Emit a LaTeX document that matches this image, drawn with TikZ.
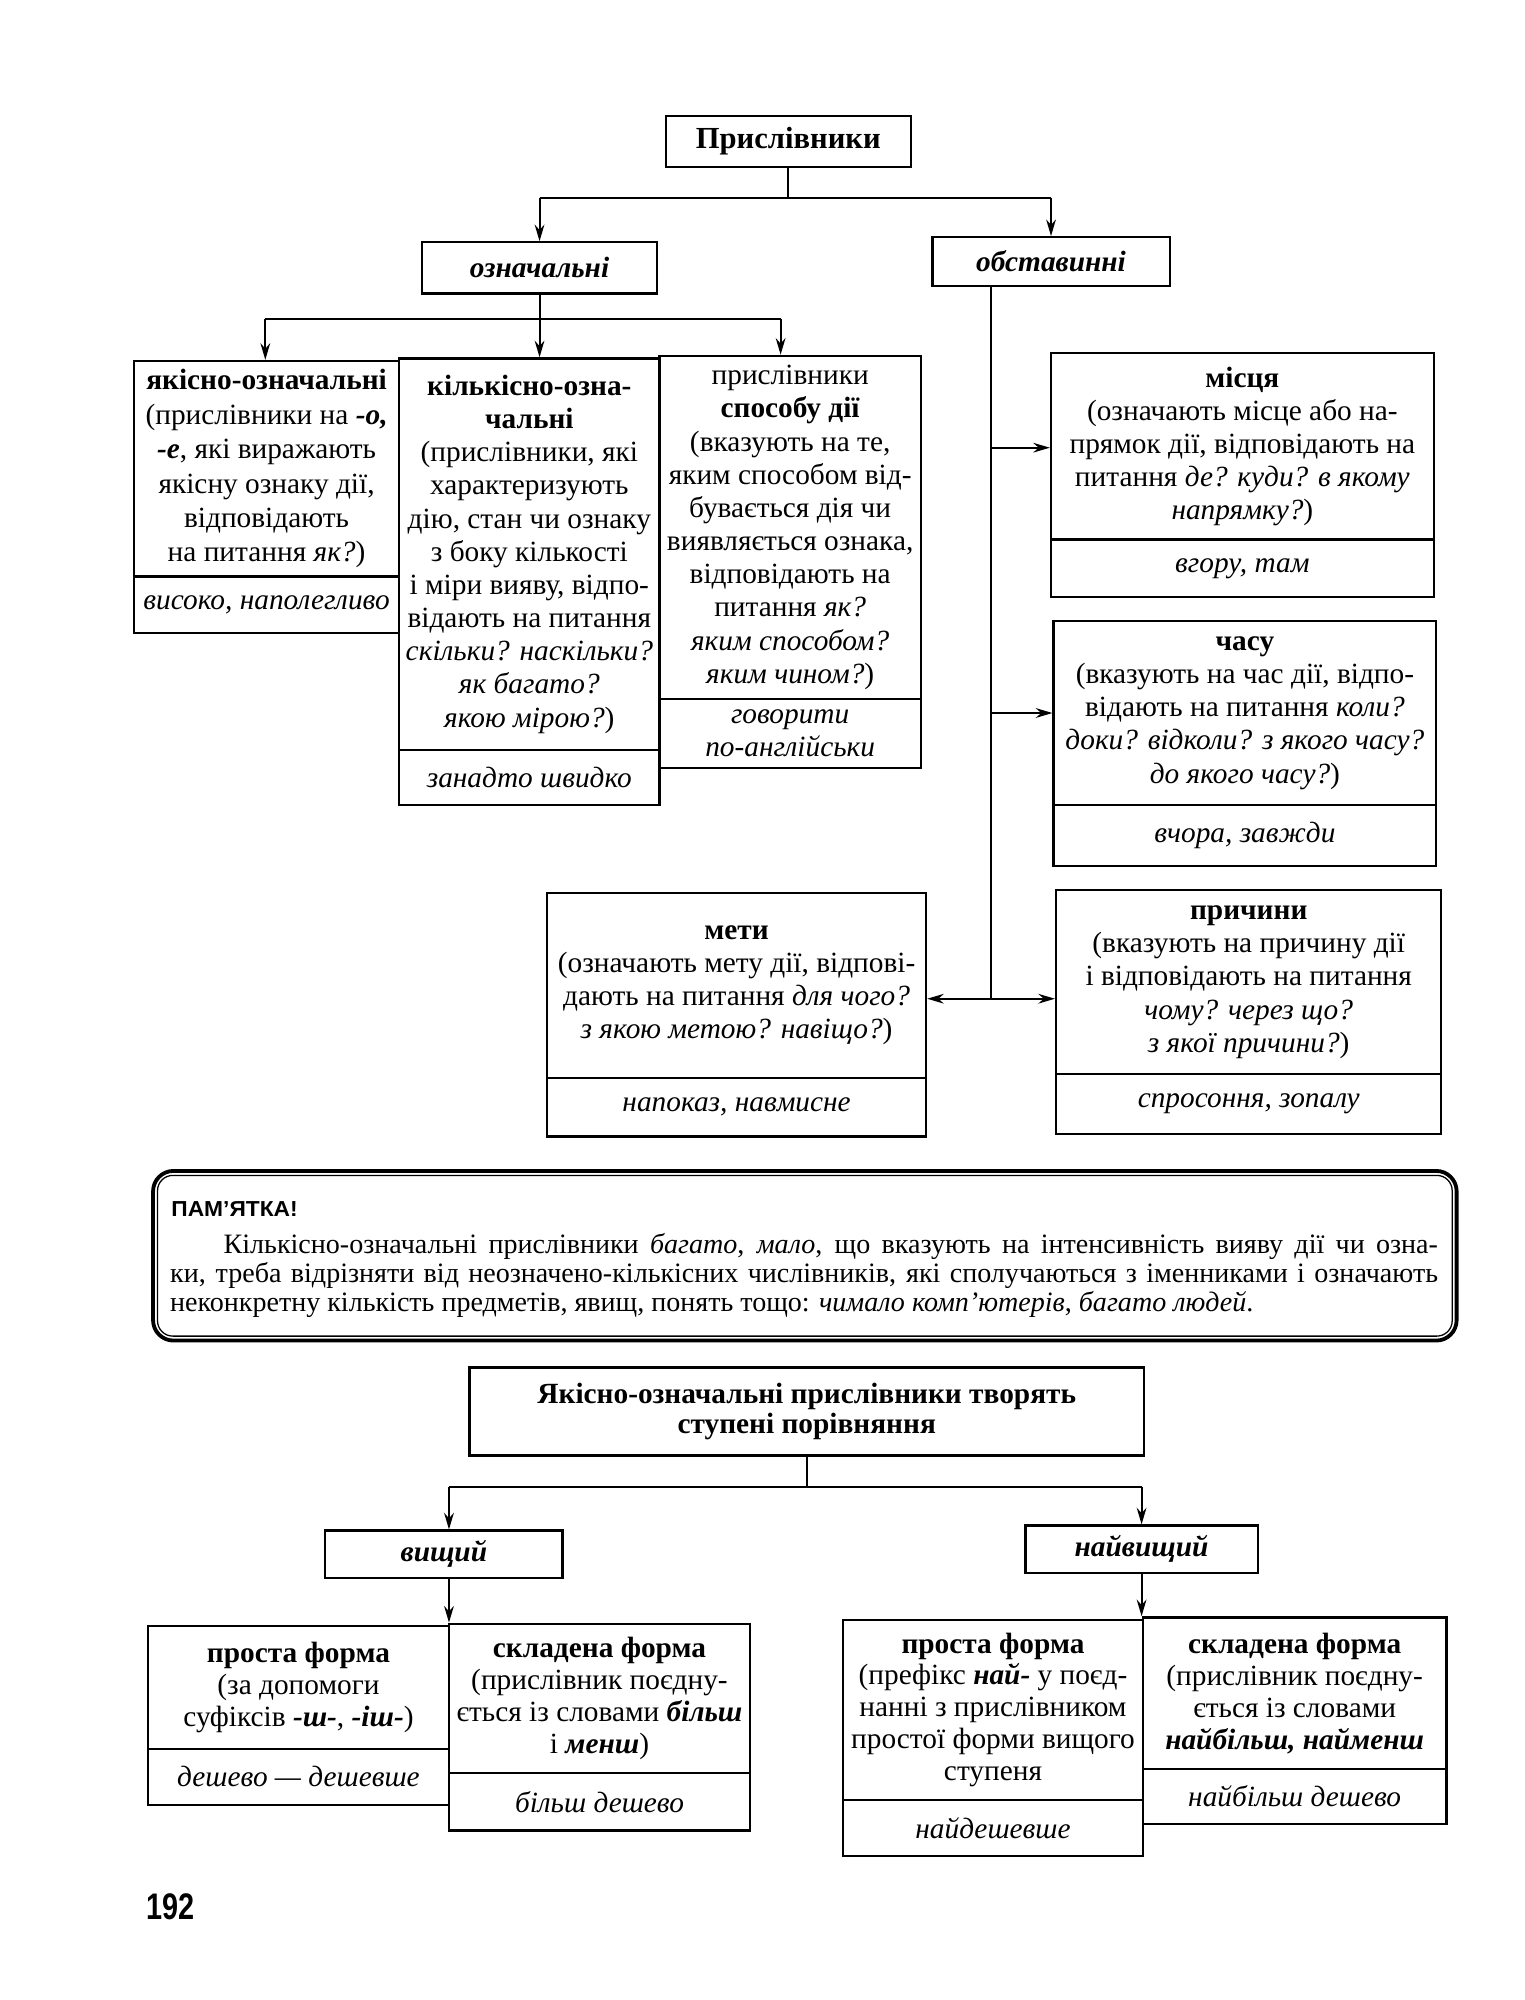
\documentclass[tikz,border=0pt]{standalone}
\usepackage{fontspec}
\setmainfont{Liberation Serif}
\setsansfont{Liberation Sans}
\usepackage{graphicx}
\usetikzlibrary{fit,arrows.meta}
\begin{document}
\begin{tikzpicture}[x=0.5pt,y=-0.5pt,
  box/.style={draw, line width=0.9pt, inner sep=0pt},
  txt/.style={align=center, inner sep=0pt, font=\fontsize{11.5}{13}\selectfont},
  txtb/.style={align=center, inner sep=0pt, font=\fontsize{11.5}{12.5}\selectfont},
  ex/.style={align=center, inner sep=0pt, font=\fontsize{11.5}{13}\selectfont\itshape},
  lbl/.style={inner sep=0pt, font=\fontsize{11.5}{13}\selectfont\bfseries\itshape},
  conn/.style={line width=0.8pt},
  arr/.style={conn, -{Stealth[length=6.5pt, width=3.8pt]}},
]
\fill[white] (0,0) rectangle (1195,1568);
\useasboundingbox (0,0) rectangle (1195,1568);

% ---------- top level ----------
\node[box, fit={(522,91) (714,131)}] (T) {};
\node[txt, font=\fontsize{12}{13}\selectfont\bfseries] (Tt) at (T.center) {Прислівники};
\node[box, fit={(331,190) (515,230)}] (O) {};
\node[lbl] (Ot) at (O.center) {означальні};
\node[box, fit={(731,186) (917,224)}] (S) {};
\node[lbl] (St) at (S.center) {обставинні};

\coordinate (h1) at (618,155);
\draw[conn] (T.south) -- (T.south |- h1);
\draw[conn] (O.north |- h1) -- (S.north |- h1);
\draw[arr] (O.north |- h1) -- (O.north);
\draw[arr] (S.north |- h1) -- (S.north);

% ---------- означальні ----------
\node[box, fit={(105,283) (313,452)}] (Au) {};
\node[box, fit={(105,452) (313,496)}] (Al) {};
\node[txt, font=\fontsize{11.5}{13.5}\selectfont] (At) at (Au.center) {\textbf{якісно-означальні}\\(прислівники на \textbf{\textit{-о,}}\\\textbf{\textit{-е}}, які виражають\\якісну ознаку дії,\\відповідають\\на питання \textit{як?})};
\node[ex] (Ae) at (Al.center) {високо, наполегливо};

\node[box, fit={(313,281) (517,588)}] (Bu) {};
\node[box, fit={(313,588) (517,631)}] (Bl) {};
\node[txt] (Bt) at (Bu.center) {\textbf{кількісно-озна-}\\\textbf{чальні}\\(прислівники, які\\характеризують\\дію, стан чи ознаку\\з боку кількості\\і міри вияву, відпо-\\відають на питання\\\textit{скільки? наскільки?}\\\textit{як багато?}\\\textit{якою мірою?})};
\node[ex] (Be) at (Bl.center) {занадто швидко};

\node[box, fit={(517,279) (722,548)}] (Cu) {};
\node[box, fit={(517,548) (722,602)}] (Cl) {};
\node[txt] (Ct) at (Cu.center) {прислівники\\\textbf{способу дії}\\(вказують на те,\\яким способом від-\\бувається дія чи\\виявляється ознака,\\відповідають на\\питання \textit{як?}\\\textit{яким способом?}\\\textit{яким чином?})};
\node[ex] (Ce) at (Cl.center) {говорити\\по-англійськи};

\coordinate (h2) at (423,250);
\coordinate (a1) at (208,250);
\coordinate (a3) at (612,250);
\draw[conn] (O.south) -- (O.south |- h2);
\draw[conn] (a1) -- (a3);
\draw[arr] (a1) -- (a1 |- Au.north);
\draw[arr] (O.south |- h2) -- (O.south |- Bu.north);
\draw[arr] (a3) -- (a3 |- Cu.north);

% ---------- обставинні ----------
\node[box, fit={(824,277) (1124,423)}] (Du) {};
\node[box, fit={(824,423) (1124,468)}] (Dl) {};
\node[txt] (Dt) at (Du.center) {\textbf{місця}\\(означають місце або на-\\прямок дії, відповідають на\\питання \textit{де? куди? в якому}\\\textit{напрямку?})};
\node[ex] (De) at (Dl.center) {вгору, там};

\node[box, fit={(826,487) (1126,631)}] (Eu) {};
\node[box, fit={(826,631) (1126,679)}] (El) {};
\node[txt] (Et) at (Eu.center) {\textbf{часу}\\(вказують на час дії, відпо-\\відають на питання \textit{коли?}\\\textit{доки? відколи? з якого часу?}\\\textit{до якого часу?})};
\node[ex] (Ee) at (El.center) {вчора, завжди};

\node[box, fit={(429,700) (726,845)}] (Fu) {};
\node[box, fit={(429,845) (726,891)}] (Fl) {};
\node[txt] (Ft) at (Fu.center) {\textbf{мети}\\(означають мету дії, відпові-\\дають на питання \textit{для чого?}\\\textit{з якою метою? навіщо?})};
\node[ex] (Fe) at (Fl.center) {напоказ, навмисне};

\node[box, fit={(828,698) (1130,842)}] (Gu) {};
\node[box, fit={(828,842) (1130,889)}] (Gl) {};
\node[txt] (Gt) at (Gu.center) {\textbf{причини}\\(вказують на причину дії\\і відповідають на питання\\\textit{чому? через що?}\\\textit{з якої причини?})};
\node[ex] (Ge) at (Gl.center) {спросоння, зопалу};

\coordinate (vx) at (777,0);
\coordinate (vb) at (777,783);
\coordinate (aD) at (777,351);
\coordinate (aE) at (777,559);
\draw[conn] (vx |- S.south) -- (vb);
\draw[arr] (aD) -- (aD -| Du.west);
\draw[arr] (aE) -- (aE -| Eu.west);
\draw[arr] (vb) -- (vb -| Gu.west);
\draw[arr] (vb) -- (vb -| Fu.east);

% ---------- ПАМ'ЯТКА ----------
\node[draw, line width=1.5pt, rounded corners=8pt, inner sep=0pt, fit={(120,918) (1142,1051)}] (P) {};
\draw[line width=0.5pt, rounded corners=6pt] ([shift={(5,5)}]P.north west) rectangle ([shift={(-5,-5)}]P.south east);
\node[anchor=base west, inner sep=0pt, font=\sffamily\bfseries\fontsize{8.5}{9}\selectfont] (Ph) at (134,954) {\scalebox{1.05}[1]{ПАМ’ЯТКА!}};
\node[anchor=base west, inner sep=0pt] (Pt) at (133,983) {\parbox[t]{497pt}{\fontsize{11}{11.3}\selectfont
\makebox[497pt][s]{\hspace*{21pt}Кількісно-означальні прислівники \textit{багато}, \textit{мало}, що вказують на інтенсивність вияву дії чи озна-}\\
\makebox[497pt][s]{ки, треба відрізняти від неозначено-кількісних числівників, які сполучаються з іменниками і означають}\\
неконкретну кількість предметів, явищ, понять тощо: \textit{чимало комп’ютерів}, \textit{багато людей}.}};

% ---------- ступені порівняння ----------
\node[box, fit={(368,1072) (897,1141)}] (H) {};
\node[txt, font=\fontsize{11.5}{12}\selectfont\bfseries] (Ht) at (H.center) {Якісно-означальні прислівники творять\\ступені порівняння};
\node[box, fit={(255,1200) (441,1237)}] (V) {};
\node[lbl] (Vt) at (V.center) {вищий};
\node[box, fit={(804,1196) (986,1233)}] (N) {};
\node[lbl] (Nt) at (N.center) {найвищий};

\node[box, fit={(116,1275) (352,1371)}] (Iu) {};
\node[box, fit={(116,1371) (352,1415)}] (Il) {};
\node[txtb] (It) at (Iu.center) {\textbf{проста форма}\\(за допомоги\\суфіксів \textbf{\textit{-ш-}}, \textbf{\textit{-іш-}})};
\node[ex] (Ie) at (Il.center) {дешево — дешевше};

\node[box, fit={(352,1273) (588,1390)}] (Ju) {};
\node[box, fit={(352,1390) (588,1435)}] (Jl) {};
\node[txtb] (Jt) at (Ju.center) {\textbf{складена форма}\\(прислівник поєдну-\\ється із словами \textbf{\textit{більш}}\\і \textbf{\textit{менш}})};
\node[ex] (Je) at (Jl.center) {більш дешево};

\node[box, fit={(661,1270) (896,1411)}] (Ku) {};
\node[box, fit={(661,1411) (896,1455)}] (Kl) {};
\node[txtb] (Kt) at (Ku.center) {\textbf{проста форма}\\(префікс \textbf{\textit{най-}} у поєд-\\нанні з прислівником\\простої форми вищого\\ступеня};
\node[ex] (Ke) at (Kl.center) {найдешевше};

\node[box, fit={(896,1268) (1134,1387)}] (Lu) {};
\node[box, fit={(896,1387) (1134,1430)}] (Ll) {};
\node[txtb] (Lt) at (Lu.center) {\textbf{складена форма}\\(прислівник поєдну-\\ється із словами\\\textbf{\textit{найбільш, найменш}}};
\node[ex] (Le) at (Ll.center) {найбільш дешево};

\coordinate (h3) at (632,1166);
\coordinate (b1) at (352,1166);
\coordinate (b2) at (895,1166);
\draw[conn] (H.south) -- (H.south |- h3);
\draw[conn] (b1) -- (b2);
\draw[arr] (b1) -- (b1 |- V.north);
\draw[arr] (b2) -- (b2 |- N.north);
\draw[arr] (b1 |- V.south) -- (b1 |- Ju.north);
\draw[arr] (b2 |- N.south) -- (b2 |- Lu.north);

% ---------- page number ----------
\node[inner sep=0pt, font=\sffamily\bfseries\fontsize{14.5}{15}\selectfont] (pg) at (133.5,1495) {\scalebox{0.78}[1]{192}};
\end{tikzpicture}
\end{document}
